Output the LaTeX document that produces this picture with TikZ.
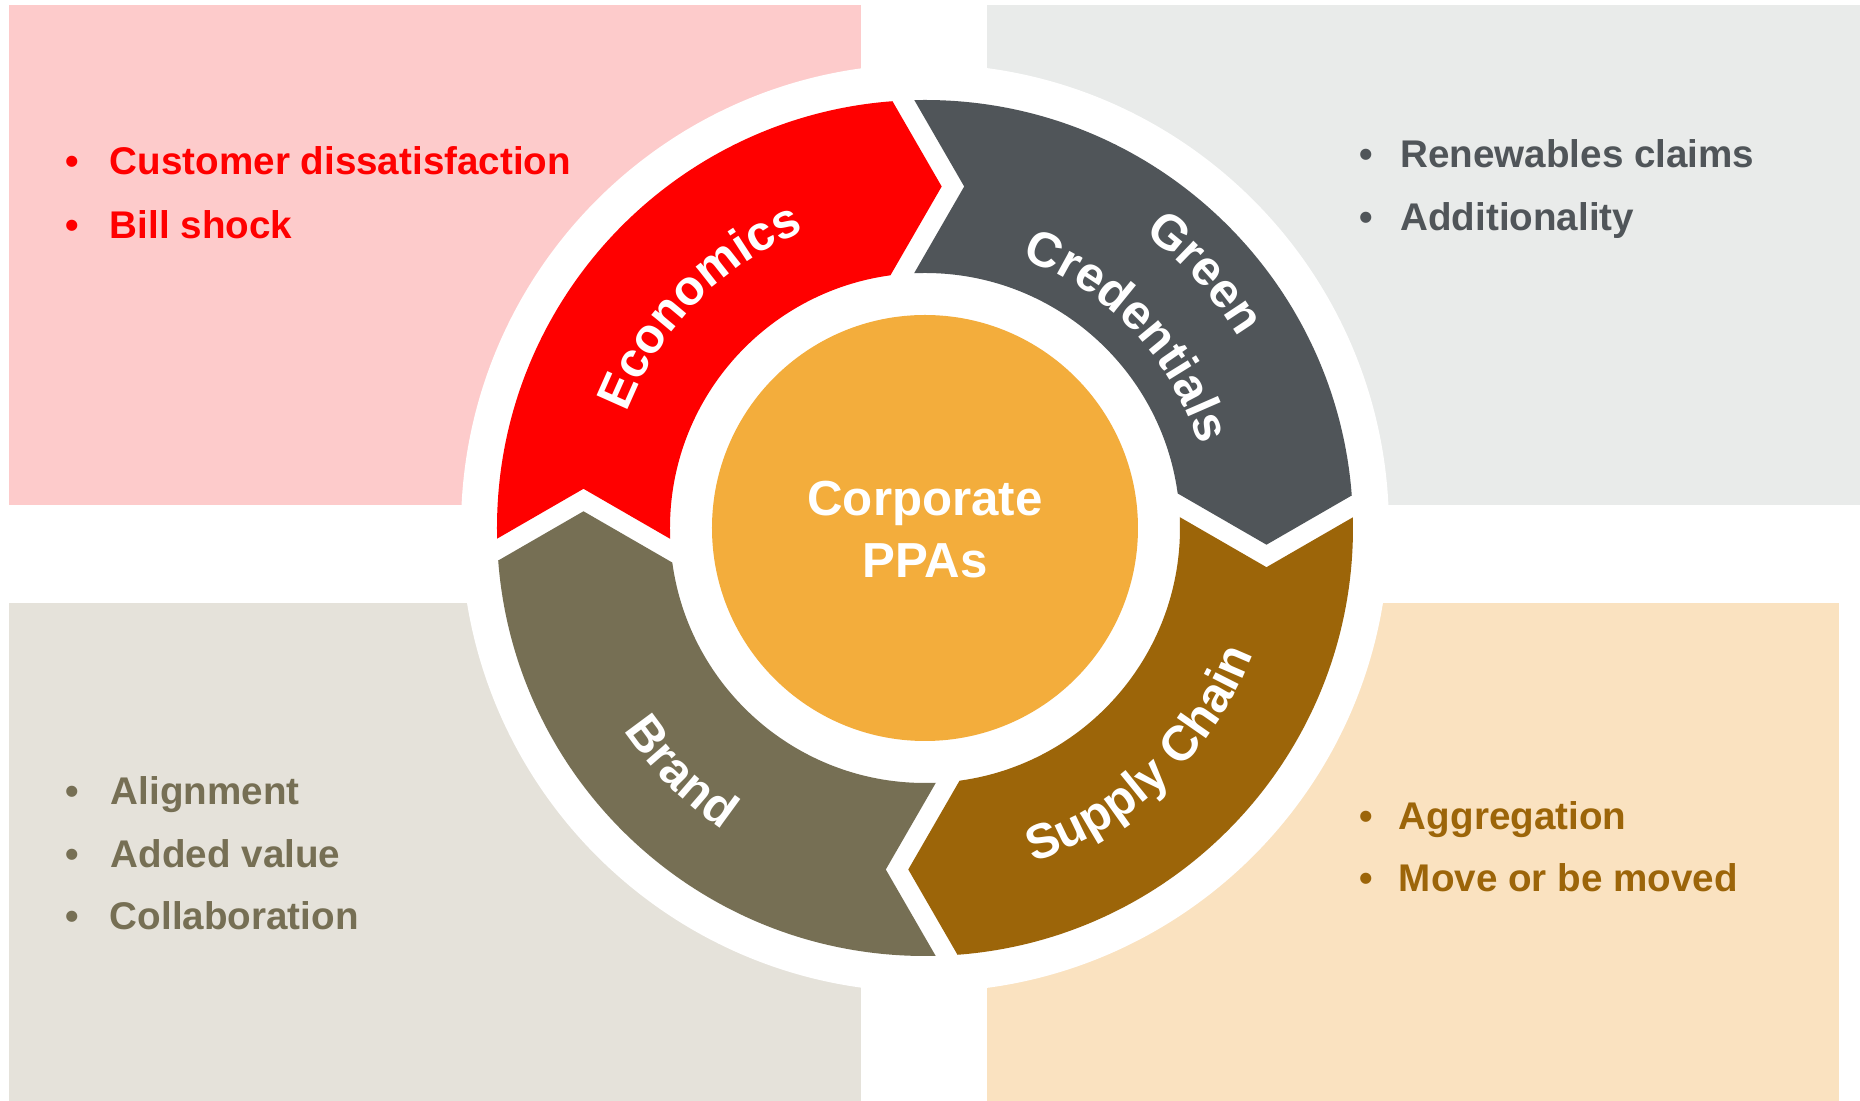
\documentclass[tikz,border=0pt]{standalone}
\usepackage{fontspec}
\setmainfont{Liberation Sans}
\usetikzlibrary{decorations.text}
\definecolor{bgpink}{HTML}{FDCBCB}
\definecolor{bggray}{HTML}{E9EBEA}
\definecolor{bgbeige}{HTML}{E5E2DA}
\definecolor{bgpeach}{HTML}{FAE2C0}
\definecolor{cred}{HTML}{FF0000}
\definecolor{cgray}{HTML}{505559}
\definecolor{cbrown}{HTML}{9C6509}
\definecolor{colive}{HTML}{766F54}
\definecolor{corange}{HTML}{F3AD3C}
\newcommand\ringfont{\fontsize{24.5}{29}\selectfont\bfseries\color{white}}
\begin{document}
\begin{tikzpicture}[x=0.5pt,y=0.5pt,
  bul/.style={anchor=base, inner sep=0pt, font=\fontsize{19.3}{23}\selectfont\bfseries},
  item/.style={anchor=base west, inner sep=0pt, font=\fontsize{19.3}{23}\selectfont\bfseries},
  hubtext/.style={anchor=base, inner sep=0pt, text=white, font=\fontsize{24.6}{29}\selectfont\bfseries},
  ringlabel/.style={decorate, decoration={text along path, text align=center, text={|\ringfont|#1}}}]
\useasboundingbox (-925,-573) rectangle (935,528);
% background panels
\fill[bgpink] (-916,23) rectangle (-64,523);
\fill[bggray] (62.5,23) rectangle (935,523);
\fill[bgbeige] (-916,-573) rectangle (-64,-75);
\fill[bgpeach] (62.5,-573) rectangle (914,-75);
% white disc
\fill[white] (0,0) circle[radius=464];
% ring segments (chevron arrows)
\foreach \ang/\col in {0/cred,-90/cgray,-180/cbrown,-270/colive}{
  \begin{scope}[rotate=\ang]
    \clip (-480.1,-40.8) -- (-341.5,39.2) -- (-202.9,-40.8) -- (0,0) -- (-63.3,202.9) -- (16.7,341.5) -- (-63.3,480.1) -- (-700,700) -- cycle;
    \fill[\col, even odd rule] (0,0) circle[radius=428] (0,0) circle[radius=255];
  \end{scope}
}
% hub
\node[circle, fill=corange, minimum size=213pt, inner sep=0pt] (hub) at (0,0) {};
\node[hubtext] (hub1) at (0,12) {Corporate};
\node[hubtext] (hub2) at (0,-49.3) {PPAs};
% ring labels
\path[ringlabel=Economics] (205.5:320) arc[start angle=205.5, end angle=65.5, radius=320];
\path[ringlabel=Green] (112.3:367) arc[start angle=112.3, end angle=-27.7, radius=367];
\path[ringlabel=Credentials] (113.5:286) arc[start angle=113.5, end angle=-26.5, radius=286];
\path[ringlabel=Brand] (155:363) arc[start angle=155, end angle=295, radius=363];
\path[ringlabel=Supply Chain] (243.5:351) arc[start angle=243.5, end angle=383.5, radius=351];
% bullet lists
\node[bul, text=cred] (e1b) at (-852.6,353.7) {\textbullet};
\node[item, text=cred] (e1) at (-815.5,353.7) {Customer dissatisfaction};
\node[bul, text=cred] (e2b) at (-852.6,289.5) {\textbullet};
\node[item, text=cred] (e2) at (-815.5,289.5) {Bill shock};
\node[bul, text=cgray] (g1b) at (441,360.3) {\textbullet};
\node[item, text=cgray] (g1) at (475,360.3) {Renewables claims};
\node[bul, text=cgray] (g2b) at (441,297.2) {\textbullet};
\node[item, text=cgray] (g2) at (475,297.2) {Additionality};
\node[bul, text=colive] (b1b) at (-852.6,-277) {\textbullet};
\node[item, text=colive] (b1) at (-814.5,-277) {Alignment};
\node[bul, text=colive] (b2b) at (-852.6,-339.4) {\textbullet};
\node[item, text=colive] (b2) at (-814.5,-339.4) {Added value};
\node[bul, text=colive] (b3b) at (-852.6,-401.9) {\textbullet};
\node[item, text=colive] (b3) at (-815.5,-401.9) {Collaboration};
\node[bul, text=cbrown] (s1b) at (441,-301.5) {\textbullet};
\node[item, text=cbrown] (s1) at (473.6,-301.5) {Aggregation};
\node[bul, text=cbrown] (s2b) at (441,-364) {\textbullet};
\node[item, text=cbrown] (s2) at (473.6,-364) {Move or be moved};
\end{tikzpicture}
\end{document}
